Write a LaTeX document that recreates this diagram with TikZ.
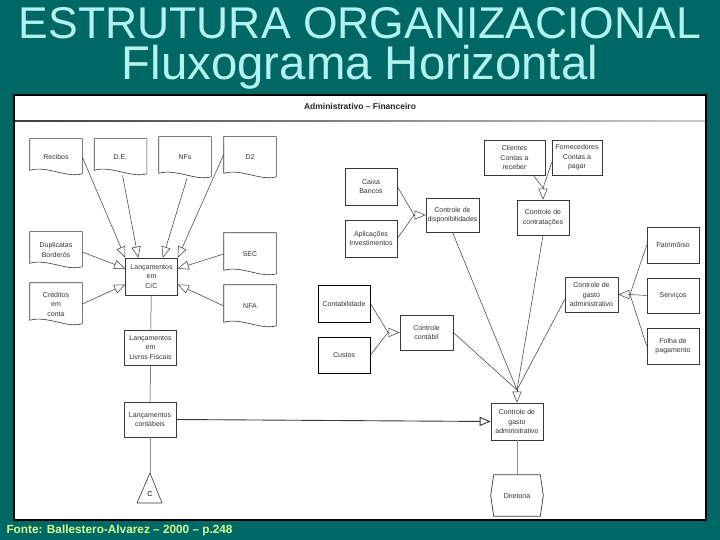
\documentclass[tikz,border=0pt]{standalone}
\usepackage{fontspec}
\setmainfont{Liberation Sans}
\usepackage{graphicx}
\usetikzlibrary{arrows.meta}

\definecolor{fundo}{RGB}{0,104,100}
\definecolor{titulo}{RGB}{178,242,240}
\definecolor{fonte}{RGB}{210,255,150}
\definecolor{traco}{RGB}{55,55,55}

\begin{document}
\begin{tikzpicture}[x=1pt, y=-1pt,
    bloco/.style={draw=traco, fill=white, line width=0.6pt, minimum width=52pt, minimum height=36pt,
        inner sep=1pt, align=center, font=\fontsize{7}{9.5}\selectfont, text=black!80},
    doc/.style={bloco, draw=none, fill=none},
    liga/.style={draw=traco, line width=0.5pt},
    seta/.style={liga, -{Triangle[open, length=11pt, width=9pt]}}]

    % fundo e quadro
    \fill[fundo] (0,0) rectangle (720,540);
    \useasboundingbox (0,0) rectangle (720,540);
    \draw[line width=1.2pt, fill=white] (14,95) rectangle (706,520);
    \node[anchor=base, text=titulo, inner sep=0pt] (tit1) at (360,39)
        {\resizebox{682pt}{!}{\fontsize{46}{50}\selectfont ESTRUTURA ORGANIZACIONAL}};
    \node[anchor=base, text=titulo, inner sep=0pt] (tit2) at (360,80)
        {\resizebox{476pt}{!}{\fontsize{46}{50}\selectfont Fluxograma Horizontal}};
    \node[anchor=base west, text=fonte, font=\fontsize{11.8}{13}\selectfont\bfseries] (fonte) at (3,533)
        {Fonte: Ballestero-Alvarez -- 2000 -- p.248};
    \node[font=\fontsize{8.5}{10}\selectfont\bfseries, text=black!85] (cab) at (360,106) {Administrativo -- Financeiro};
    \shade[left color=black!75, right color=black!20] (15,120.5) rectangle (705,122);

    % lado esquerdo
    \node[doc] (rec) at (56,157) {Recibos};
    \node[doc] (de) at (120.5,157) {D.E.};
    \node[doc, minimum height=41pt] (nfs) at (185,157.5) {NFs};
    \node[doc, minimum height=41pt] (d2) at (250,157.5) {D2};
    \node[doc] (dup) at (56,250) {Duplicatas\\Borderôs};
    \node[doc, minimum height=42pt] (cred) at (56,304) {Créditos\\em\\conta};
    \node[doc, minimum height=42pt] (sec) at (250,254) {SEC};
    \node[doc, minimum height=42pt] (nfa) at (250,306) {NFA};
    \foreach \n in {rec,de,nfs,d2,dup,cred,sec,nfa}
        \draw[traco, line width=0.6pt] (\n.north west) -- (\n.north east) -- ([yshift=1.5pt]\n.south east)
            .. controls ([xshift=-16pt,yshift=-3pt]\n.south east) and ([xshift=18pt,yshift=10pt]\n.south west)
            .. ([yshift=5pt]\n.south west) -- cycle;

    \node[bloco, minimum height=37pt] (cc) at (151.5,276.5) {Lançamentos\\em\\C/C};
    \node[bloco, minimum height=35pt] (lf) at (150.5,347.5) {Lançamentos\\em\\Livros Fiscais};
    \node[bloco, minimum height=35pt] (lcont) at (150,419.5) {Lançamentos\\contábeis};
    \coordinate (ctop) at (150,473);
    \node[font=\fontsize{7}{8}\selectfont] (c) at (150,494) {C};
    \draw[traco, line width=0.6pt] (ctop) -- (137,503) -- (162,503) -- cycle;

    \draw[seta] (rec.east) -- (cc.north west);
    \draw[seta] ([xshift=2pt]de.south) -- ([xshift=13pt]cc.north west);
    \draw[seta] ([xshift=2pt]nfs.south) -- ([xshift=-15pt]cc.north east);
    \draw[seta] ([yshift=3pt]d2.west) -- (cc.north east);
    \draw[seta] ([yshift=-2pt]dup.east) -- ([yshift=8pt]cc.west);
    \draw[seta] (cred.east) -- ([yshift=-8pt]cc.west);
    \draw[seta] (sec.west) -- ([yshift=8pt]cc.east);
    \draw[seta] (nfa.west) -- ([yshift=-8pt]cc.east);
    \draw[liga] (cc) -- (lf);
    \draw[liga] (lf) -- (lcont);
    \draw[liga, draw=black!45] (lcont) -- (ctop);

    % lado direito
    \node[bloco, minimum width=61pt, minimum height=35pt] (cli) at (514.5,157.5) {Clientes\\Contas a\\receber};
    \node[bloco, minimum width=50pt, minimum height=35pt] (forn) at (577,157.5) {Fornecedores\\Contas a\\pagar};
    \node[bloco, minimum height=37pt] (cxb) at (371,186.5) {Caixa\\Bancos};
    \node[bloco, minimum height=37pt] (apl) at (371,238.5) {Aplicações\\Investimentos};
    \node[bloco, minimum width=53pt, minimum height=34pt] (disp) at (452.5,215) {Controle de\\disponibilidades};
    \node[bloco, minimum height=35pt] (contr) at (543,217.5) {Controle de\\contratações};
    \node[bloco, draw=black, line width=0.9pt, minimum height=37pt] (ctb) at (344,303.5) {Contabilidade};
    \node[bloco, draw=black, line width=0.9pt, minimum height=36pt] (cus) at (344,355) {Custos};
    \node[bloco, minimum width=53pt, minimum height=35pt] (cctb) at (426.5,332.5) {Controle\\contábil};
    \node[bloco, minimum width=53pt, minimum height=35pt] (gadm) at (591.5,294.5) {Controle de\\gasto\\administrativo};
    \node[bloco, minimum height=36pt] (pat) at (673,245) {Patrimônio};
    \node[bloco, minimum height=35pt] (serv) at (673,295.5) {Serviços};
    \node[bloco, minimum height=36pt] (folha) at (673,346) {Folha de\\pagamento};
    \node[bloco, minimum height=37pt] (gfin) at (517,421.5) {Controle de\\gasto\\administrativo};
    \node[doc, minimum height=41pt] (dir) at (517,495.5) {Diretoria};
    \draw[traco, line width=0.7pt] ([xshift=3pt]dir.north west) -- ([xshift=-3pt]dir.north east) -- (dir.east)
        -- ([xshift=-3pt]dir.south east) -- ([xshift=3pt]dir.south west) -- (dir.west) -- cycle;

    \coordinate (m1) at (414,215);
    \coordinate (m2) at (543,188);
    \coordinate (m3) at (388,332.5);
    \coordinate (m4) at (630,294.5);
    \coordinate (m5) at (517,390);
    \draw[liga] (cxb.east) -- (m1);
    \draw[liga] (apl.east) -- (m1);
    \draw[seta] (m1) -- (disp.west);
    \draw[liga] ([xshift=-12pt]cli.south east) -- (m2);
    \draw[liga] ([yshift=-5pt]forn.west) -- (m2);
    \draw[seta] (m2) -- (contr.north);
    \draw[liga] (ctb.east) -- (m3);
    \draw[liga] (cus.east) -- (m3);
    \draw[seta] (m3) -- (cctb.west);
    \draw[liga] (pat.west) -- (m4);
    \draw[liga] (serv.west) -- (m4);
    \draw[liga] (folha.west) -- (m4);
    \draw[seta] (m4) -- (gadm.east);
    \draw[liga] (disp.south) -- (m5);
    \draw[liga] (contr.south) -- (m5);
    \draw[liga] (cctb.east) -- (m5);
    \draw[liga] ([yshift=-5pt]gadm.west) -- (m5);
    \draw[seta] (m5) -- (gfin.north);
    \draw[seta, line width=0.9pt] (lcont.east) -- (gfin.west);
    \draw[liga, draw=black!45] (gfin) -- (dir);
\end{tikzpicture}
\end{document}
